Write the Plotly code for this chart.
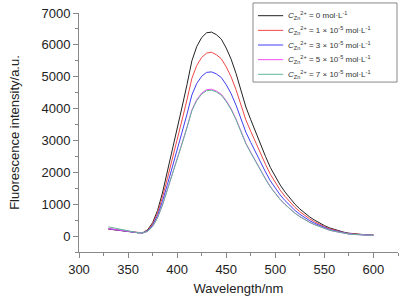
import plotly.graph_objects as go

wavelength = [330, 335, 340, 345, 350, 355, 360, 365, 370, 375, 380, 385, 390, 395, 400,
              405, 410, 415, 420, 425, 430, 435, 440, 445, 450, 455, 460, 465, 470, 475,
              480, 485, 490, 495, 500, 505, 510, 515, 520, 525, 530, 535, 540, 545, 550,
              555, 560, 565, 570, 575, 580, 585, 590, 595, 600]

c0 = [220, 200, 185, 165, 145, 125, 105, 105, 200, 420, 800, 1350, 2000, 2650, 3350,
      4050, 4750, 5500, 5950, 6230, 6380, 6400, 6320, 6180, 5900, 5550, 5100, 4550, 4050, 3650,
      3250, 2850, 2500, 2150, 1850, 1600, 1380, 1180, 1000, 850, 720, 600, 500, 410, 330,
      260, 210, 160, 120, 90, 70, 55, 45, 35, 30]

c1 = [220, 200, 185, 165, 145, 125, 105, 100, 180, 380, 720, 1215, 1800, 2385, 3015,
      3645, 4275, 4950, 5355, 5607, 5742, 5770, 5688, 5562, 5310, 4995, 4590, 4095, 3645, 3285,
      2925, 2565, 2250, 1935, 1665, 1440, 1242, 1062, 900, 765, 648, 540, 450, 369, 297,
      234, 189, 144, 108, 81, 63, 50, 40, 32, 27]

c3 = [230, 205, 185, 165, 145, 125, 105, 100, 161, 338, 644, 1087, 1610, 2133, 2697,
      3260, 3824, 4428, 4790, 5015, 5136, 5152, 5088, 4975, 4750, 4468, 4106, 3663, 3260, 2938,
      2616, 2294, 2013, 1731, 1489, 1288, 1111, 950, 805, 684, 580, 483, 403, 330, 266,
      209, 169, 129, 97, 72, 56, 44, 36, 28, 24]

c5 = [240, 215, 190, 170, 145, 125, 105, 100, 144, 302, 576, 972, 1440, 1908, 2412,
      2916, 3420, 3960, 4284, 4486, 4594, 4608, 4550, 4450, 4248, 3996, 3672, 3276, 2916, 2628,
      2340, 2052, 1800, 1548, 1332, 1152, 994, 850, 720, 612, 518, 432, 360, 295, 238,
      187, 151, 115, 86, 65, 50, 40, 32, 25, 22]

c7 = [290, 260, 220, 180, 150, 125, 105, 100, 150, 300, 572, 965, 1430, 1895, 2395,
      2896, 3396, 3933, 4254, 4454, 4562, 4576, 4519, 4419, 4219, 3968, 3647, 3253, 2896, 2610,
      2324, 2038, 1788, 1537, 1323, 1144, 987, 844, 715, 608, 515, 429, 358, 293, 236,
      186, 150, 114, 86, 64, 50, 40, 32, 25, 22]

names = [
    "<i>C</i><sub>Zn</sub><sup>2+</sup> = 0 mol·L<sup>-1</sup>",
    "<i>C</i><sub>Zn</sub><sup>2+</sup> = 1 × 10<sup>-5</sup> mol·L<sup>-1</sup>",
    "<i>C</i><sub>Zn</sub><sup>2+</sup> = 3 × 10<sup>-5</sup> mol·L<sup>-1</sup>",
    "<i>C</i><sub>Zn</sub><sup>2+</sup> = 5 × 10<sup>-5</sup> mol·L<sup>-1</sup>",
    "<i>C</i><sub>Zn</sub><sup>2+</sup> = 7 × 10<sup>-5</sup> mol·L<sup>-1</sup>",
]
series = [c0, c1, c3, c5, c7]
colors = ["#222222", "#f04848", "#4040f0", "#f050f0", "#60b898"]

fig = go.Figure()
for nm, ys, col in zip(names, series, colors):
    fig.add_trace(go.Scatter(x=wavelength, y=ys, mode="lines", name=nm,
                             line=dict(color=col, width=1), showlegend=False))

FAM = "Liberation Sans, Arial, sans-serif"
axis_font = dict(family=FAM, size=13, color="#222222")

# Hand-built compact legend (paper coordinates)
box_x0, box_x1, box_y0, box_y1 = 0.5455, 0.9969, 0.711, 1.042
sample_x0, sample_x1, text_x = 0.561, 0.640, 0.648
entry_top, entry_step = 0.9887, 0.0613
fig.add_shape(type="rect", xref="paper", yref="paper", x0=box_x0, x1=box_x1,
              y0=box_y0, y1=box_y1, line=dict(color="#888888", width=1),
              fillcolor="white", layer="above")
for i, (nm, col) in enumerate(zip(names, colors)):
    yy = entry_top - i * entry_step
    fig.add_shape(type="line", xref="paper", yref="paper", x0=sample_x0, x1=sample_x1,
                  y0=yy, y1=yy, line=dict(color=col, width=1), layer="above")
    fig.add_annotation(xref="paper", yref="paper", x=text_x, y=yy, text=nm,
                       showarrow=False, xanchor="left", yanchor="middle",
                       font=dict(family=FAM, size=8, color="#333333"))

fig.update_layout(
    width=406, height=300,
    margin=dict(l=79, r=8, t=13, b=48, autoexpand=False),
    paper_bgcolor="white", plot_bgcolor="white",
    font=axis_font,
    showlegend=False,
    xaxis=dict(range=[300, 625], tick0=300, dtick=50, showgrid=False, zeroline=False,
               showline=True, linecolor="#888888", linewidth=1,
               ticks="outside", ticklen=5, tickcolor="#888888",
               minor=dict(ticks="outside", ticklen=3, dtick=25, tickcolor="#888888"),
               title=dict(text="Wavelength/nm", font=axis_font, standoff=8),
               tickfont=axis_font),
    yaxis=dict(range=[-500, 7000], tick0=0, dtick=1000, showgrid=False, zeroline=False,
               showline=True, linecolor="#888888", linewidth=1,
               ticks="outside", ticklen=5, tickcolor="#888888",
               minor=dict(ticks="outside", ticklen=3, dtick=500, tickcolor="#888888"),
               title=dict(text="Fluorescence intensity/a.u.", font=axis_font, standoff=18),
               tickfont=axis_font),
)

fig.write_html("out.html", config={"displayModeBar": False},
               post_script="document.body.style.margin='0';")
